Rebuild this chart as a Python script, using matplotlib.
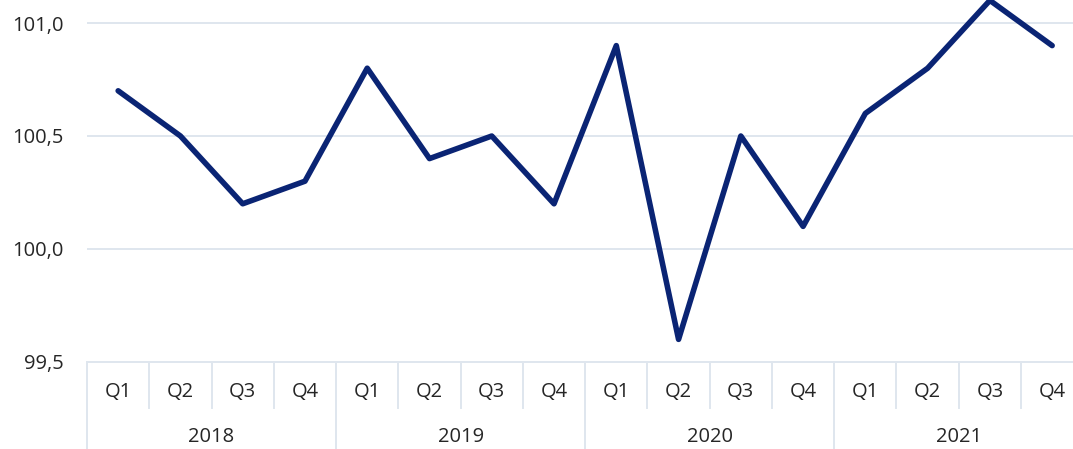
import matplotlib
matplotlib.use('Agg')
import matplotlib.pyplot as plt
import matplotlib.transforms as mtransforms

# Datos del gráfico
anios = ['2018', '2019', '2020', '2021']
trimestres = ['Q1', 'Q2', 'Q3', 'Q4']
valores = [100.7, 100.5, 100.2, 100.3,
           100.8, 100.4, 100.5, 100.2,
           100.9, 99.6, 100.5, 100.1,
           100.6, 100.8, 101.1, 100.9]
yticks = [99.5, 100.0, 100.5, 101.0]

plt.rcParams['font.family'] = ['Open Sans', 'DejaVu Sans']
ColorLinea = '#0a2474'
ColorGrid = '#dfe6ee'
ColorTexto = '#262626'

fig = plt.figure(figsize=(10.73, 4.49), dpi=100)
ax = fig.add_axes([0.0811, 0.1938, 0.9285, 0.8053])

x = list(range(len(valores)))
ax.plot(x, valores, color=ColorLinea, linewidth=4, solid_joinstyle='round',
        solid_capstyle='round', zorder=3)

ax.set_xlim(-0.5, len(valores) - 0.5)
ax.set_ylim(99.5, 101.1)
ax.set_yticks(yticks)
ax.set_yticklabels([f'{v:.1f}'.replace('.', ',') for v in yticks])
ax.tick_params(axis='y', length=0, pad=17, labelsize=14.5, labelcolor=ColorTexto)
ax.set_xticks([])
ax.grid(axis='y', color=ColorGrid, linewidth=1.4)
ax.set_axisbelow(True)
for s in ['top', 'right', 'left']:
    ax.spines[s].set_visible(False)
ax.spines['bottom'].set_color(ColorGrid)
ax.spines['bottom'].set_linewidth(1.4)

# Etiquetas de categorías en dos niveles
trans = mtransforms.blended_transform_factory(ax.transData, ax.transAxes)
for i in x:
    ax.text(i, -0.083, trimestres[i % 4], transform=trans, ha='center', va='center',
            fontsize=14.5, color=ColorTexto)
for j, a in enumerate(anios):
    ax.text(j * 4 + 1.5, -0.207, a, transform=trans, ha='center', va='center',
            fontsize=14.5, color=ColorTexto)

# Separadores
for k in range(len(valores) + 1):
    b = k - 0.5
    fondo = -0.25 if k % 4 == 0 else -0.127
    ax.plot([b, b], [0, fondo], transform=trans, color=ColorGrid, linewidth=1.4, clip_on=False)

fig.savefig('out.png', dpi=100)
